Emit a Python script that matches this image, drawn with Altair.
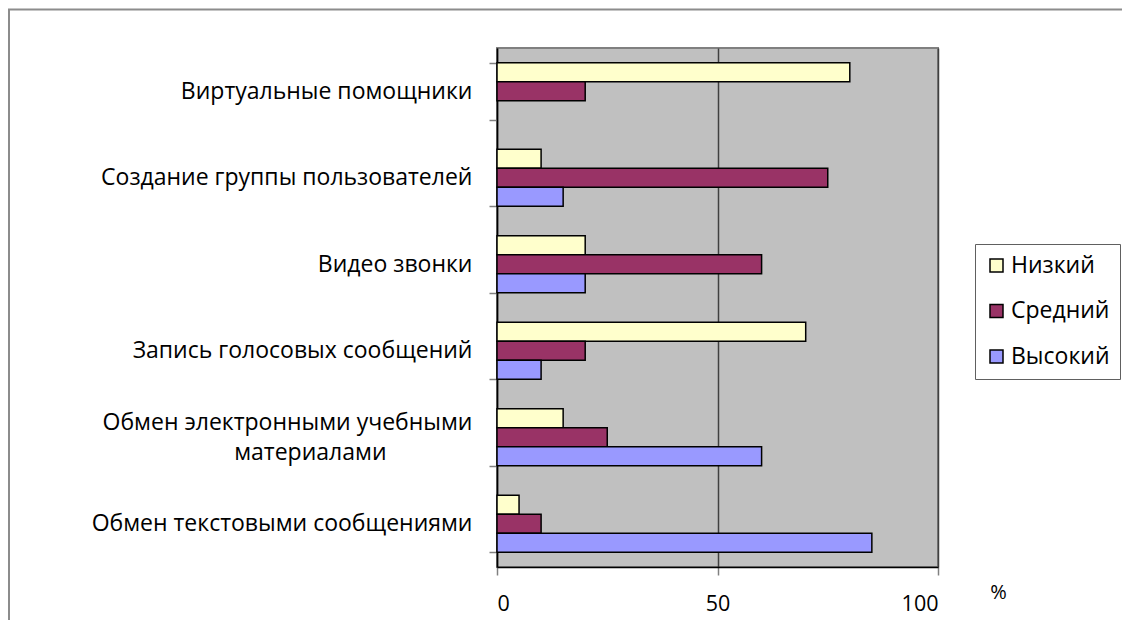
import altair as alt
import pandas as pd

categories = [
    "Виртуальные помощники",
    "Создание группы пользователей",
    "Видео звонки",
    "Запись голосовых сообщений",
    "Обмен электронными учебными материалами",
    "Обмен текстовыми сообщениями",
]
levels = ["Низкий", "Средний", "Высокий"]
low = [80, 10, 20, 70, 15, 5]
mid = [20, 75, 60, 20, 25, 10]
high = [None, 15, 20, 10, 60, 85]
colors = ["#FFFFCC", "#993366", "#9999FF"]
x_ticks = [0, 50, 100]

rows = []
for i, c in enumerate(categories):
    for lvl, vals in zip(levels, [low, mid, high]):
        if vals[i] is not None:
            rows.append({"cat": c, "level": lvl, "value": vals[i]})
df = pd.DataFrame(rows)

FONT = "Open Sans"
WRAP = categories[4]

label_expr = (
    "datum.value == '" + WRAP + "' ? "
    "['Обмен электронными учебными', 'материалами\\u2003\\u2003\\u2003\\u2800'] : datum.value"
)

bars = alt.Chart(df).mark_bar(stroke="black", strokeWidth=1.5).encode(
    y=alt.Y(
        "cat:N",
        sort=categories,
        scale=alt.Scale(paddingInner=0.34, paddingOuter=0.17),
        axis=alt.Axis(
            title=None,
            tickBand="extent",
            tickSize=8,
            tickColor="#808080",
            tickWidth=1.5,
            domainColor="black",
            domainWidth=1.5,
            labelPadding=17,
            labelFont=FONT,
            labelFontSize=23,
            labelColor="black",
            labelLimit=600,
            labelLineHeight=30,
            labelExpr=label_expr,
            labelOffset={"condition": {"test": "datum.value == '" + WRAP + "'", "value": -15}, "value": 0},
            grid=False,
        ),
    ),
    yOffset=alt.YOffset("level:N", sort=levels, scale=alt.Scale(paddingInner=0, paddingOuter=0)),
    x=alt.X(
        "value:Q",
        scale=alt.Scale(domain=[0, 100], nice=False),
        axis=alt.Axis(
            values=x_ticks,
            title="%",
            titleX=501,
            titleY=25,
            titleAlign="center",
            titleBaseline="middle",
            titleFont=FONT,
            titleFontSize=20,
            titleFontWeight="normal",
            titleColor="black",
            tickSize=8,
            tickColor="#808080",
            tickWidth=1.5,
            domainColor="black",
            domainWidth=1.5,
            labelPadding=18,
            labelFont=FONT,
            labelFontSize=21.5,
            labelColor="black",
            grid=True,
            gridColor="#404040",
            gridWidth=1.5,
        ),
    ),
    color=alt.Color(
        "level:N",
        sort=levels,
        scale=alt.Scale(domain=levels, range=colors),
        legend=alt.Legend(
            title=None,
            orient="none",
            legendX=478,
            legendY=196,
            strokeColor="#606060",
            padding=10,
            symbolType="square",
            symbolSize=169,
            symbolStrokeColor="black",
            symbolStrokeWidth=1.5,
            symbolOpacity=1,
            labelFont=FONT,
            labelFontSize=23,
            labelColor="black",
            labelOffset=3,
            rowPadding=21.5,
        ),
    ),
)

border = alt.Chart(alt.Data(values=[{"a": 1}])).mark_rect(
    fill="transparent", stroke="#8c8c8c", strokeWidth=2
).encode(
    x=alt.value(-488), x2=alt.value(800), y=alt.value(-38.5), y2=alt.value(800)
)

chart = alt.layer(bars, border).properties(
    width=441,
    height=519,
    padding={"left": 489, "top": 40, "right": 184, "bottom": 53},
    autosize=alt.AutoSizeParams(type="none"),
).configure_view(
    fill="#C0C0C0", stroke="#808080", strokeWidth=2
)

chart.save("out.html", embed_options={"renderer": "svg", "actions": False})
